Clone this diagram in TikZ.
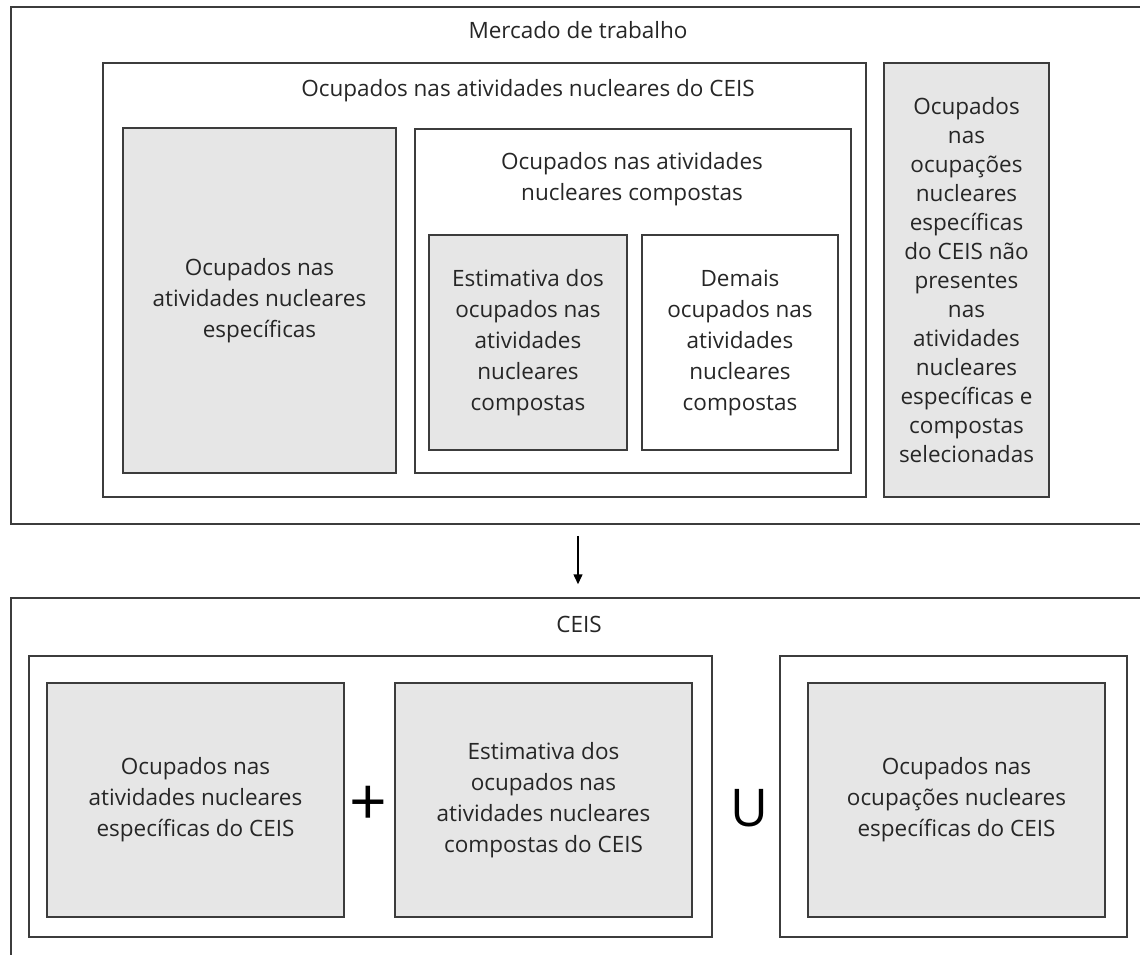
\documentclass[tikz,border=0pt]{standalone}
\usepackage{fontspec}
\setmainfont{Open Sans}
\usetikzlibrary{arrows.meta}
\definecolor{cinza}{HTML}{E6E6E6}
\definecolor{borda}{HTML}{3C3C3C}
\definecolor{texto}{HTML}{262626}
\tikzstyle{cx}=[rectangle,draw=borda,line width=1.5pt,inner sep=0pt,align=center,text=texto,font=\fontsize{22.5}{31}\selectfont]
\tikzstyle{cxc}=[cx,fill=cinza]
\tikzstyle{tt}=[inner sep=0pt,align=center,text=texto,font=\fontsize{22.5}{31}\selectfont]

\begin{document}
\begin{tikzpicture}[x=1pt,y=-1pt]
\useasboundingbox (0,0) rectangle (1140,955);
\clip (0,0) rectangle (1140,955);
\node[cx,minimum width=1134,minimum height=517] (mt) at (578,265.5) {};
\node[tt] (tmt) at (578,30) {Mercado de trabalho};
\node[cx,minimum width=763,minimum height=434] (nuc) at (484.5,280) {};
\node[tt] (tnuc) at (528,91) {Ocupados nas atividades nucleares do CEIS};
\node[cxc,minimum width=165,minimum height=434,font=\fontsize{22.5}{29}\selectfont] (fora) at (966.5,280) {Ocupados\\nas\\ocupações\\nucleares\\específicas\\do CEIS não\\presentes\\nas\\atividades\\nucleares\\específicas e\\compostas\\selecionadas};
\node[cxc,minimum width=273,minimum height=345] (esp) at (259.5,300.5) {Ocupados nas\\atividades nucleares\\específicas};
\node[cx,minimum width=436,minimum height=344] (comp) at (633,301) {};
\node[tt] (tcomp) at (632,179) {Ocupados nas atividades\\nucleares compostas};
\node[cxc,minimum width=198,minimum height=215] (est) at (528,342.5) {Estimativa dos\\ocupados nas\\atividades\\nucleares\\compostas};
\node[cx,minimum width=196,minimum height=215] (dem) at (740,342.5) {Demais\\ocupados nas\\atividades\\nucleares\\compostas};

\node[cx,minimum width=1134,minimum height=367] (ceis) at (578,781.5) {};
\node[tt] (tceis) at (579,624) {CEIS};
\draw[-{Triangle[length=10pt,width=9pt]},line width=1.5pt,draw=black,shorten <=11pt,shorten >=13pt] (mt.south) -- (ceis.north);
\node[cx,minimum width=683,minimum height=281] (soma) at (370.5,796.5) {};
\node[cxc,minimum width=297,minimum height=234] (espceis) at (195.5,800) {Ocupados nas\\atividades nucleares\\específicas do CEIS};
\node[cxc,minimum width=297,minimum height=234] (estceis) at (543.5,800) {Estimativa dos\\ocupados nas\\atividades nucleares\\compostas do CEIS};
\node[tt,text=black,font=\fontsize{66}{66}\selectfont] (mais) at (368,806) {+};
\node[tt,text=black,font=\fontsize{52}{52}\selectfont] (uni) at (749,808) {U};
\node[cx,minimum width=347,minimum height=281] (uniao) at (953.5,796.5) {};
\node[cxc,minimum width=297,minimum height=234] (ocupceis) at (956.5,800) {Ocupados nas\\ocupações nucleares\\específicas do CEIS};
\end{tikzpicture}
\end{document}
